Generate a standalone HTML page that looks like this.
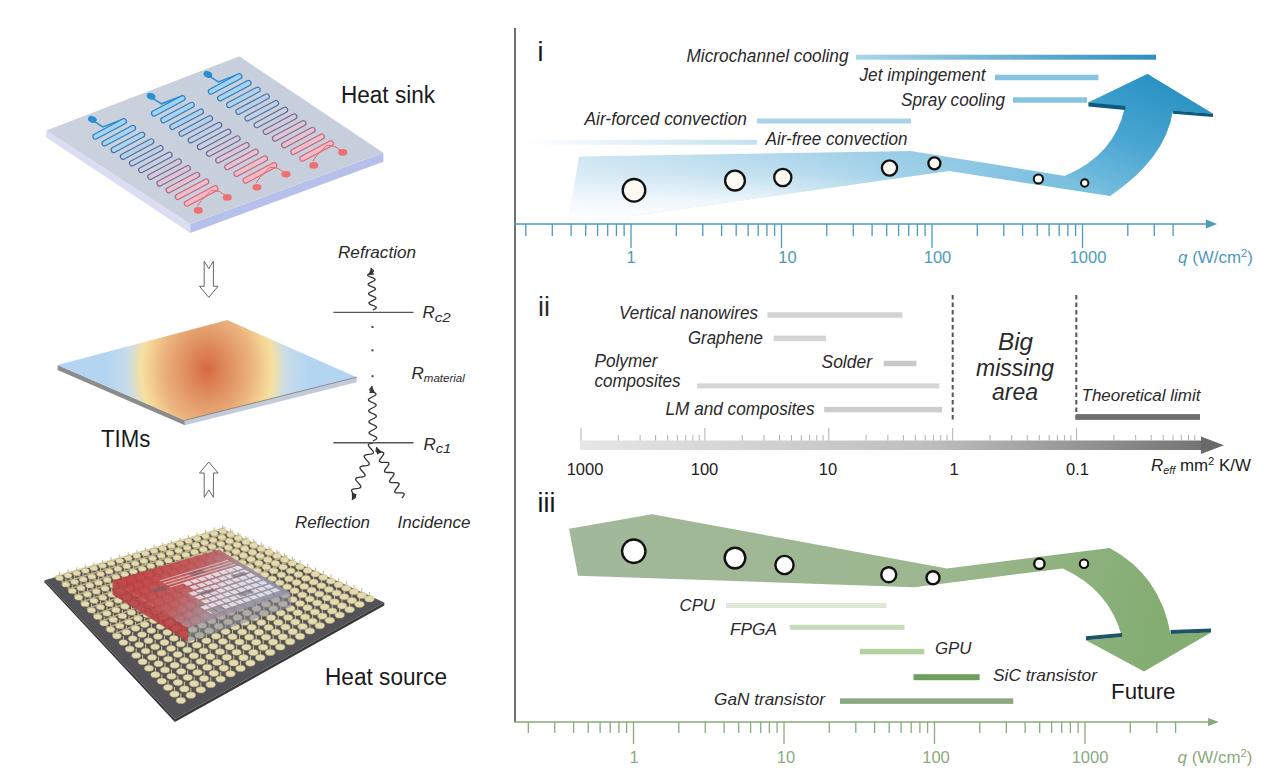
<!DOCTYPE html><html><head><meta charset="utf-8"><style>html,body{margin:0;padding:0;background:#fff;width:1280px;height:775px;overflow:hidden}svg{display:block}text{font-family:"Liberation Sans",sans-serif}</style></head><body>
<svg width="1280" height="775" viewBox="0 0 1280 775">
<defs>
<linearGradient id="bandB" gradientUnits="userSpaceOnUse" x1="580" y1="0" x2="1060" y2="0">
 <stop offset="0" stop-color="#cfe6f3"/><stop offset="0.5" stop-color="#a8d4ea"/><stop offset="1" stop-color="#7cc0e0"/></linearGradient>
<linearGradient id="bandW" gradientUnits="userSpaceOnUse" x1="0" y1="152" x2="0" y2="222">
 <stop offset="0" stop-color="#fff" stop-opacity="0"/><stop offset="0.3" stop-color="#fff" stop-opacity="0.2"/><stop offset="0.7" stop-color="#fff" stop-opacity="0.75"/><stop offset="1" stop-color="#fff" stop-opacity="1"/></linearGradient>
<linearGradient id="maskH" gradientUnits="userSpaceOnUse" x1="570" y1="0" x2="1000" y2="0">
 <stop offset="0" stop-color="#fff"/><stop offset="0.45" stop-color="#fff"/><stop offset="1" stop-color="#000"/></linearGradient>
<mask id="mH" maskUnits="userSpaceOnUse" x="0" y="0" width="1280" height="775"><rect x="0" y="0" width="1280" height="775" fill="url(#maskH)"/></mask>
<linearGradient id="arrowB" gradientUnits="userSpaceOnUse" x1="1100" y1="200" x2="1150" y2="80">
 <stop offset="0" stop-color="#7cc0e0"/><stop offset="0.5" stop-color="#4aa6d2"/><stop offset="1" stop-color="#2b93c4"/></linearGradient>
<linearGradient id="mcBar" x1="0" x2="1" y1="0" y2="0">
 <stop offset="0" stop-color="#a9d6ea"/><stop offset="1" stop-color="#2f8fbf"/></linearGradient>
<linearGradient id="afBar" x1="0" x2="1" y1="0" y2="0">
 <stop offset="0" stop-color="#ffffff"/><stop offset="1" stop-color="#c4e1ef"/></linearGradient>
<linearGradient id="grayAx" gradientUnits="userSpaceOnUse" x1="580" y1="0" x2="1225" y2="0">
 <stop offset="0" stop-color="#e6e6e6"/><stop offset="0.55" stop-color="#bdbdbd"/><stop offset="1" stop-color="#6d6d6d"/></linearGradient>
<linearGradient id="bandG" gradientUnits="userSpaceOnUse" x1="600" y1="540" x2="1150" y2="660">
 <stop offset="0" stop-color="#a2b89a"/><stop offset="0.6" stop-color="#9cb78f"/><stop offset="1" stop-color="#84ad72"/></linearGradient>
<radialGradient id="tim" gradientUnits="userSpaceOnUse" cx="207" cy="369" r="100" gradientTransform="translate(207 369) scale(1 1.25) translate(-207 -369)">
 <stop offset="0" stop-color="#d56a3e"/><stop offset="0.2" stop-color="#df8c5e"/><stop offset="0.45" stop-color="#ebb47f"/><stop offset="0.6" stop-color="#f4d596"/><stop offset="0.66" stop-color="#f5e0a2"/><stop offset="0.8" stop-color="#c8dcea"/><stop offset="1" stop-color="#b4d5f2"/></radialGradient>
<linearGradient id="hsTop" gradientUnits="userSpaceOnUse" x1="46" y1="130" x2="383" y2="153">
 <stop offset="0" stop-color="#cbd2de"/><stop offset="1" stop-color="#c6cedb"/></linearGradient>
<linearGradient id="chG" gradientUnits="userSpaceOnUse" x1="0" y1="0" x2="0" y2="100">
 <stop offset="0" stop-color="#2a8fd0"/><stop offset="0.5" stop-color="#6f86b0"/><stop offset="1" stop-color="#f07878"/></linearGradient>
<linearGradient id="dieG" gradientUnits="userSpaceOnUse" x1="150" y1="555" x2="250" y2="620">
 <stop offset="0" stop-color="#c03c3e"/><stop offset="0.38" stop-color="#bf5458"/><stop offset="0.7" stop-color="#a28e9c"/><stop offset="1" stop-color="#9294a8"/></linearGradient>
</defs>
<polygon points="46.3,130.6 190.3,224.1 190.3,233.1 46.3,137.6" fill="#d9def2"/>
<polygon points="190.3,224.1 383.3,152.8 383.3,161.8 190.3,233.1" fill="#b7c0ea"/>
<polygon points="46.3,130.6 239.3,56.3 383.3,152.8 190.3,224.1" fill="url(#hsTop)"/>
<ellipse cx="92.4" cy="119.4" rx="4.5" ry="3.2" fill="#2a8fd0" transform="rotate(20 92.4 119.4)"/>
<polyline points="94.9,121.9 102.9,126.9 123.9,118.9" fill="none" stroke="#2a8fd0" stroke-width="1.5"/>
<line x1="95.5" y1="136.5" x2="123.8" y2="121.4" stroke="rgb(38, 128, 200)" stroke-width="6.4" stroke-linecap="round"/><line x1="95.5" y1="136.5" x2="123.8" y2="121.4" stroke="rgb(160, 212, 240)" stroke-width="4.1" stroke-linecap="round"/><line x1="104.7" y1="143.2" x2="132.9" y2="128.1" stroke="rgb(49, 123, 189)" stroke-width="6.4" stroke-linecap="round"/><line x1="104.7" y1="143.2" x2="132.9" y2="128.1" stroke="rgb(168, 211, 237)" stroke-width="4.1" stroke-linecap="round"/><line x1="113.8" y1="149.9" x2="142.1" y2="134.8" stroke="rgb(61, 118, 178)" stroke-width="6.4" stroke-linecap="round"/><line x1="113.8" y1="149.9" x2="142.1" y2="134.8" stroke="rgb(176, 210, 235)" stroke-width="4.1" stroke-linecap="round"/><line x1="123.0" y1="156.6" x2="151.2" y2="141.5" stroke="rgb(72, 113, 167)" stroke-width="6.4" stroke-linecap="round"/><line x1="123.0" y1="156.6" x2="151.2" y2="141.5" stroke="rgb(184, 209, 232)" stroke-width="4.1" stroke-linecap="round"/><line x1="132.1" y1="163.3" x2="160.4" y2="148.2" stroke="rgb(84, 108, 156)" stroke-width="6.4" stroke-linecap="round"/><line x1="132.1" y1="163.3" x2="160.4" y2="148.2" stroke="rgb(192, 208, 230)" stroke-width="4.1" stroke-linecap="round"/><line x1="141.3" y1="170.0" x2="169.5" y2="154.9" stroke="rgb(96, 104, 146)" stroke-width="6.4" stroke-linecap="round"/><line x1="141.3" y1="170.0" x2="169.5" y2="154.9" stroke="rgb(200, 208, 228)" stroke-width="4.1" stroke-linecap="round"/><line x1="150.4" y1="176.7" x2="178.7" y2="161.6" stroke="rgb(122, 102, 140)" stroke-width="6.4" stroke-linecap="round"/><line x1="150.4" y1="176.7" x2="178.7" y2="161.6" stroke="rgb(208, 204, 222)" stroke-width="4.1" stroke-linecap="round"/><line x1="159.6" y1="183.4" x2="187.8" y2="168.3" stroke="rgb(148, 101, 134)" stroke-width="6.4" stroke-linecap="round"/><line x1="159.6" y1="183.4" x2="187.8" y2="168.3" stroke="rgb(216, 200, 216)" stroke-width="4.1" stroke-linecap="round"/><line x1="168.7" y1="190.1" x2="197.0" y2="175.0" stroke="rgb(174, 100, 129)" stroke-width="6.4" stroke-linecap="round"/><line x1="168.7" y1="190.1" x2="197.0" y2="175.0" stroke="rgb(225, 196, 210)" stroke-width="4.1" stroke-linecap="round"/><line x1="177.9" y1="196.8" x2="206.1" y2="181.7" stroke="rgb(200, 99, 123)" stroke-width="6.4" stroke-linecap="round"/><line x1="177.9" y1="196.8" x2="206.1" y2="181.7" stroke="rgb(233, 192, 204)" stroke-width="4.1" stroke-linecap="round"/><line x1="187.0" y1="203.5" x2="215.3" y2="188.4" stroke="rgb(226, 98, 118)" stroke-width="6.4" stroke-linecap="round"/><line x1="187.0" y1="203.5" x2="215.3" y2="188.4" stroke="rgb(242, 188, 198)" stroke-width="4.1" stroke-linecap="round"/>
<polyline points="211.26426602350074,190.39554354634552 219.26426602350074,191.39554354634552 225.26426602350074,195.39554354634552" fill="none" stroke="#e86868" stroke-width="1"/>
<polyline points="211.26426602350074,190.39554354634552 201.26426602350074,200.39554354634552 197.26426602350074,206.39554354634552" fill="none" stroke="#e86868" stroke-width="1"/>
<ellipse cx="227.26426602350074" cy="197.39554354634552" rx="4.5" ry="3.3" fill="#f07070"/>
<ellipse cx="198.26426602350074" cy="210.39554354634552" rx="4.5" ry="3.3" fill="#f07070"/>
<ellipse cx="151.1" cy="96.3" rx="4.5" ry="3.2" fill="#2a8fd0" transform="rotate(20 151.1 96.3)"/>
<polyline points="153.6,98.8 161.6,103.8 182.6,95.8" fill="none" stroke="#2a8fd0" stroke-width="1.5"/>
<line x1="154.2" y1="113.4" x2="182.5" y2="98.3" stroke="rgb(38, 128, 200)" stroke-width="6.4" stroke-linecap="round"/><line x1="154.2" y1="113.4" x2="182.5" y2="98.3" stroke="rgb(160, 212, 240)" stroke-width="4.1" stroke-linecap="round"/><line x1="163.4" y1="120.1" x2="191.6" y2="105.0" stroke="rgb(49, 123, 189)" stroke-width="6.4" stroke-linecap="round"/><line x1="163.4" y1="120.1" x2="191.6" y2="105.0" stroke="rgb(168, 211, 237)" stroke-width="4.1" stroke-linecap="round"/><line x1="172.5" y1="126.8" x2="200.8" y2="111.7" stroke="rgb(61, 118, 178)" stroke-width="6.4" stroke-linecap="round"/><line x1="172.5" y1="126.8" x2="200.8" y2="111.7" stroke="rgb(176, 210, 235)" stroke-width="4.1" stroke-linecap="round"/><line x1="181.7" y1="133.5" x2="209.9" y2="118.4" stroke="rgb(72, 113, 167)" stroke-width="6.4" stroke-linecap="round"/><line x1="181.7" y1="133.5" x2="209.9" y2="118.4" stroke="rgb(184, 209, 232)" stroke-width="4.1" stroke-linecap="round"/><line x1="190.8" y1="140.2" x2="219.1" y2="125.1" stroke="rgb(84, 108, 156)" stroke-width="6.4" stroke-linecap="round"/><line x1="190.8" y1="140.2" x2="219.1" y2="125.1" stroke="rgb(192, 208, 230)" stroke-width="4.1" stroke-linecap="round"/><line x1="200.0" y1="146.9" x2="228.2" y2="131.8" stroke="rgb(96, 104, 146)" stroke-width="6.4" stroke-linecap="round"/><line x1="200.0" y1="146.9" x2="228.2" y2="131.8" stroke="rgb(200, 208, 228)" stroke-width="4.1" stroke-linecap="round"/><line x1="209.1" y1="153.6" x2="237.4" y2="138.5" stroke="rgb(122, 102, 140)" stroke-width="6.4" stroke-linecap="round"/><line x1="209.1" y1="153.6" x2="237.4" y2="138.5" stroke="rgb(208, 204, 222)" stroke-width="4.1" stroke-linecap="round"/><line x1="218.3" y1="160.3" x2="246.5" y2="145.2" stroke="rgb(148, 101, 134)" stroke-width="6.4" stroke-linecap="round"/><line x1="218.3" y1="160.3" x2="246.5" y2="145.2" stroke="rgb(216, 200, 216)" stroke-width="4.1" stroke-linecap="round"/><line x1="227.4" y1="167.0" x2="255.7" y2="151.9" stroke="rgb(174, 100, 129)" stroke-width="6.4" stroke-linecap="round"/><line x1="227.4" y1="167.0" x2="255.7" y2="151.9" stroke="rgb(225, 196, 210)" stroke-width="4.1" stroke-linecap="round"/><line x1="236.6" y1="173.7" x2="264.8" y2="158.6" stroke="rgb(200, 99, 123)" stroke-width="6.4" stroke-linecap="round"/><line x1="236.6" y1="173.7" x2="264.8" y2="158.6" stroke="rgb(233, 192, 204)" stroke-width="4.1" stroke-linecap="round"/><line x1="245.7" y1="180.4" x2="274.0" y2="165.3" stroke="rgb(226, 98, 118)" stroke-width="6.4" stroke-linecap="round"/><line x1="245.7" y1="180.4" x2="274.0" y2="165.3" stroke="rgb(242, 188, 198)" stroke-width="4.1" stroke-linecap="round"/>
<polyline points="269.9642660235007,167.29554354634553 277.9642660235007,168.29554354634553 283.9642660235007,172.29554354634553" fill="none" stroke="#e86868" stroke-width="1"/>
<polyline points="269.9642660235007,167.29554354634553 259.9642660235007,177.29554354634553 255.96426602350073,183.29554354634553" fill="none" stroke="#e86868" stroke-width="1"/>
<ellipse cx="285.9642660235007" cy="174.29554354634553" rx="4.5" ry="3.3" fill="#f07070"/>
<ellipse cx="256.9642660235007" cy="187.29554354634553" rx="4.5" ry="3.3" fill="#f07070"/>
<ellipse cx="207.9" cy="74.4" rx="4.5" ry="3.2" fill="#2a8fd0" transform="rotate(20 207.9 74.4)"/>
<polyline points="210.4,76.9 218.4,81.9 239.4,73.9" fill="none" stroke="#2a8fd0" stroke-width="1.5"/>
<line x1="211.0" y1="91.5" x2="239.3" y2="76.4" stroke="rgb(38, 128, 200)" stroke-width="6.4" stroke-linecap="round"/><line x1="211.0" y1="91.5" x2="239.3" y2="76.4" stroke="rgb(160, 212, 240)" stroke-width="4.1" stroke-linecap="round"/><line x1="220.2" y1="98.2" x2="248.4" y2="83.1" stroke="rgb(49, 123, 189)" stroke-width="6.4" stroke-linecap="round"/><line x1="220.2" y1="98.2" x2="248.4" y2="83.1" stroke="rgb(168, 211, 237)" stroke-width="4.1" stroke-linecap="round"/><line x1="229.3" y1="104.9" x2="257.6" y2="89.8" stroke="rgb(61, 118, 178)" stroke-width="6.4" stroke-linecap="round"/><line x1="229.3" y1="104.9" x2="257.6" y2="89.8" stroke="rgb(176, 210, 235)" stroke-width="4.1" stroke-linecap="round"/><line x1="238.5" y1="111.6" x2="266.7" y2="96.5" stroke="rgb(72, 113, 167)" stroke-width="6.4" stroke-linecap="round"/><line x1="238.5" y1="111.6" x2="266.7" y2="96.5" stroke="rgb(184, 209, 232)" stroke-width="4.1" stroke-linecap="round"/><line x1="247.6" y1="118.3" x2="275.9" y2="103.2" stroke="rgb(84, 108, 156)" stroke-width="6.4" stroke-linecap="round"/><line x1="247.6" y1="118.3" x2="275.9" y2="103.2" stroke="rgb(192, 208, 230)" stroke-width="4.1" stroke-linecap="round"/><line x1="256.8" y1="125.0" x2="285.0" y2="109.9" stroke="rgb(96, 104, 146)" stroke-width="6.4" stroke-linecap="round"/><line x1="256.8" y1="125.0" x2="285.0" y2="109.9" stroke="rgb(200, 208, 228)" stroke-width="4.1" stroke-linecap="round"/><line x1="265.9" y1="131.7" x2="294.2" y2="116.6" stroke="rgb(122, 102, 140)" stroke-width="6.4" stroke-linecap="round"/><line x1="265.9" y1="131.7" x2="294.2" y2="116.6" stroke="rgb(208, 204, 222)" stroke-width="4.1" stroke-linecap="round"/><line x1="275.1" y1="138.4" x2="303.3" y2="123.3" stroke="rgb(148, 101, 134)" stroke-width="6.4" stroke-linecap="round"/><line x1="275.1" y1="138.4" x2="303.3" y2="123.3" stroke="rgb(216, 200, 216)" stroke-width="4.1" stroke-linecap="round"/><line x1="284.2" y1="145.1" x2="312.5" y2="130.0" stroke="rgb(174, 100, 129)" stroke-width="6.4" stroke-linecap="round"/><line x1="284.2" y1="145.1" x2="312.5" y2="130.0" stroke="rgb(225, 196, 210)" stroke-width="4.1" stroke-linecap="round"/><line x1="293.4" y1="151.8" x2="321.6" y2="136.7" stroke="rgb(200, 99, 123)" stroke-width="6.4" stroke-linecap="round"/><line x1="293.4" y1="151.8" x2="321.6" y2="136.7" stroke="rgb(233, 192, 204)" stroke-width="4.1" stroke-linecap="round"/><line x1="302.5" y1="158.5" x2="330.8" y2="143.4" stroke="rgb(226, 98, 118)" stroke-width="6.4" stroke-linecap="round"/><line x1="302.5" y1="158.5" x2="330.8" y2="143.4" stroke="rgb(242, 188, 198)" stroke-width="4.1" stroke-linecap="round"/>
<polyline points="326.76426602350074,145.39554354634552 334.76426602350074,146.39554354634552 340.76426602350074,150.39554354634552" fill="none" stroke="#e86868" stroke-width="1"/>
<polyline points="326.76426602350074,145.39554354634552 316.76426602350074,155.39554354634552 312.76426602350074,161.39554354634552" fill="none" stroke="#e86868" stroke-width="1"/>
<ellipse cx="342.76426602350074" cy="152.39554354634552" rx="4.5" ry="3.3" fill="#f07070"/>
<ellipse cx="313.76426602350074" cy="165.39554354634552" rx="4.5" ry="3.3" fill="#f07070"/>
<text x="341" y="102.6" font-size="23.5"  fill="#1a1a1a" text-anchor="start" textLength="94" lengthAdjust="spacingAndGlyphs" >Heat sink</text>
<path d="M204.20000000000002,261.2 L208.8,268.59999999999997 L213.4,261.2 L213.4,286.3 L218.10000000000002,286.3 L208.8,297.3 L199.5,286.3 L204.20000000000002,286.3 Z" fill="#fff" stroke="#666" stroke-width="1" stroke-linejoin="miter"/>
<path d="M204.20000000000002,497.3 L208.8,489.90000000000003 L213.4,497.3 L213.4,473 L218.10000000000002,473 L208.8,462 L199.5,473 L204.20000000000002,473 Z" fill="#fff" stroke="#666" stroke-width="1" stroke-linejoin="miter"/>
<polygon points="57.6,365 184.8,420.3 184.8,425.3 57.6,370" fill="#8c8c8c"/>
<polygon points="184.8,420.3 356.7,377.2 356.7,382.2 184.8,425.3" fill="#c3cbd9"/>
<polygon points="57.6,365 227.4,320.1 356.7,377.2 184.8,420.3" fill="url(#tim)"/>
<line x1="184.8" y1="420.3" x2="356.7" y2="377.2" stroke="#777" stroke-width="0.8"/>
<text x="101" y="447.3" font-size="23.5"  fill="#1a1a1a" text-anchor="start" textLength="49.5" lengthAdjust="spacingAndGlyphs" >TIMs</text>
<polyline points="372.80,310.00 374.02,309.42 375.09,308.85 375.87,308.29 376.26,307.75 376.22,307.22 375.73,306.72 374.87,306.23 373.73,305.75 372.46,305.28 371.20,304.81 370.11,304.33 369.33,303.84 368.94,303.33 368.99,302.80 369.47,302.25 370.33,301.69 371.44,301.12 372.68,300.54 373.88,299.96 374.89,299.39 375.59,298.84 375.89,298.30 375.74,297.78 375.17,297.28 374.24,296.79 373.05,296.31 371.77,295.84 370.54,295.37 369.51,294.89 368.80,294.39 368.51,293.88 368.66,293.35 369.23,292.80 370.16,292.23 371.31,291.66 372.55,291.08 373.72,290.50 374.68,289.93 375.30,289.38 375.50,288.85 375.25,288.33 374.59,287.83 373.59,287.35 372.37,286.88 371.09,286.41 369.89,285.93 368.92,285.45 368.30,284.95 368.10,284.43 368.35,283.89 369.01,283.34 370.00,282.77 371.18,282.19 372.42,281.61 373.56,281.04 374.45,280.48 374.98,279.93 375.08,279.40 374.74,278.89 373.99,278.39 372.93,277.91 371.69,277.44 370.41,276.97 369.25,276.49 368.35,276.00 367.82,275.50 367.72,274.98 368.07,274.44 368.81,273.88 369.85,273.31 371.06,272.73 372.29,272.15 373.11,271.59 373.44,271.05 373.32,270.53 372.87,270.02 372.24,269.52 371.63,269.02 371.18,268.52 371.00,268.00" fill="none" stroke="#333" stroke-width="1.3"/>
<polygon points="371,268 374.0971569770348,274.87369032322556 368.5022927604559,275.1134702182218" fill="#333"/>
<polyline points="373.00,441.00 374.44,440.29 375.66,439.58 376.47,438.87 376.75,438.18 376.45,437.50 375.61,436.83 374.37,436.16 372.90,435.50 371.43,434.84 370.19,434.17 369.35,433.50 369.05,432.82 369.33,432.13 370.14,431.42 371.36,430.71 372.80,430.00 374.24,429.29 375.46,428.58 376.27,427.87 376.55,427.18 376.25,426.50 375.41,425.83 374.17,425.16 372.70,424.50 371.23,423.84 369.99,423.17 369.15,422.50 368.85,421.82 369.13,421.13 369.94,420.42 371.16,419.71 372.60,419.00 374.04,418.29 375.26,417.58 376.07,416.87 376.35,416.18 376.05,415.50 375.21,414.83 373.97,414.16 372.50,413.50 371.03,412.84 369.79,412.17 368.95,411.50 368.65,410.82 368.93,410.13 369.74,409.42 370.96,408.71 372.40,408.00 373.84,407.29 375.06,406.58 375.87,405.87 376.15,405.18 375.85,404.50 375.01,403.83 373.77,403.16 372.30,402.50 370.83,401.84 369.59,401.17 368.75,400.50 368.45,399.82 368.73,399.13 369.54,398.42 370.76,397.71 372.20,397.00 373.64,396.29 374.86,395.58 375.67,394.87 375.95,394.18 375.65,393.50 374.81,392.83 373.57,392.16 372.10,391.50 370.82,390.84 370.06,390.16 369.87,389.48 370.15,388.78 370.72,388.09 371.35,387.39 371.83,386.69 372.00,386.00" fill="none" stroke="#333" stroke-width="1.3"/>
<polygon points="372,386 374.9267890004699,392.9479425837242 369.3277143908753,393.0497439402623" fill="#333"/>
<polyline points="373.00,443.00 371.37,443.21 369.95,443.50 368.92,443.92 368.38,444.54 368.39,445.35 368.90,446.35 369.80,447.48 370.90,448.70 372.00,449.92 372.90,451.05 373.41,452.05 373.42,452.86 372.88,453.48 371.85,453.90 370.43,454.19 368.80,454.40 367.17,454.61 365.75,454.90 364.72,455.32 364.18,455.94 364.19,456.75 364.70,457.75 365.60,458.88 366.70,460.10 367.80,461.32 368.70,462.45 369.21,463.45 369.22,464.26 368.68,464.88 367.65,465.30 366.23,465.59 364.60,465.80 362.97,466.01 361.55,466.30 360.52,466.72 359.98,467.34 359.99,468.15 360.50,469.15 361.40,470.28 362.50,471.50 363.60,472.72 364.50,473.85 365.01,474.85 365.02,475.66 364.48,476.28 363.45,476.70 362.03,476.99 360.40,477.20 358.77,477.41 357.35,477.70 356.32,478.12 355.78,478.74 355.79,479.55 356.30,480.55 357.20,481.68 358.30,482.90 359.40,484.12 360.30,485.25 360.81,486.25 360.82,487.06 360.28,487.68 359.25,488.10 357.83,488.39 356.20,488.60 354.57,488.81 353.15,489.10 352.12,489.52 351.58,490.14 351.59,490.95 352.10,491.95 353.00,493.08 354.10,494.30 355.03,495.45 355.47,496.42 355.37,497.20 354.83,497.81 354.02,498.32 353.16,498.81 352.43,499.35 352.00,500.00" fill="none" stroke="#333" stroke-width="1.3"/>
<polygon points="352,500 351.79257678470356,492.46362317756365 357.0472982388794,494.39957318699686" fill="#333"/>
<polyline points="402.00,498.00 402.98,496.71 403.77,495.52 404.18,494.52 404.12,493.75 403.55,493.24 402.49,492.97 401.07,492.89 399.45,492.90 397.83,492.91 396.41,492.83 395.35,492.56 394.78,492.05 394.72,491.28 395.13,490.28 395.92,489.09 396.90,487.80 397.88,486.51 398.67,485.32 399.08,484.32 399.02,483.55 398.45,483.04 397.39,482.77 395.97,482.69 394.35,482.70 392.73,482.71 391.31,482.63 390.25,482.36 389.68,481.85 389.62,481.08 390.03,480.08 390.82,478.89 391.80,477.60 392.78,476.31 393.57,475.12 393.98,474.12 393.92,473.35 393.35,472.84 392.29,472.57 390.87,472.49 389.25,472.50 387.63,472.51 386.21,472.43 385.15,472.16 384.58,471.65 384.52,470.88 384.93,469.88 385.72,468.69 386.70,467.40 387.68,466.11 388.47,464.92 388.88,463.92 388.82,463.15 388.25,462.64 387.19,462.37 385.77,462.29 384.15,462.30 382.53,462.31 381.11,462.23 380.05,461.96 379.48,461.45 379.42,460.68 379.83,459.68 380.62,458.49 381.60,457.20 382.58,455.91 383.37,454.72 383.78,453.72 383.72,452.95 383.15,452.44 382.09,452.17 380.67,452.09 379.05,452.10 377.59,452.03 376.61,451.73 376.13,451.17 376.08,450.40 376.28,449.50 376.54,448.58 376.66,447.72 376.50,447.00" fill="none" stroke="#333" stroke-width="1.3"/>
<polygon points="376.5,447 382.13489130329947,452.0087922695995 377.1260990336999,454.5131884043993" fill="#333"/>
<line x1="333.4" y1="312.4" x2="413.5" y2="312.4" stroke="#555" stroke-width="1.4"/>
<line x1="333.4" y1="442.7" x2="413.5" y2="442.7" stroke="#555" stroke-width="1.4"/>
<rect x="371.5" y="326" width="2" height="2" fill="#444"/>
<rect x="371.5" y="349.3" width="2" height="2" fill="#444"/>
<rect x="371.5" y="375.2" width="2" height="2" fill="#444"/>
<text x="338" y="258.2" font-size="16.5" font-style="italic" fill="#2a2a2a" text-anchor="start" textLength="78" lengthAdjust="spacingAndGlyphs" >Refraction</text>
<text x="295" y="527.8" font-size="16.5" font-style="italic" fill="#2a2a2a" text-anchor="start" textLength="75" lengthAdjust="spacingAndGlyphs" >Reflection</text>
<text x="397.5" y="527.8" font-size="16.5" font-style="italic" fill="#2a2a2a" text-anchor="start" textLength="73" lengthAdjust="spacingAndGlyphs" >Incidence</text>
<text x="422.5" y="317.5" font-size="17" font-style="italic" fill="#2a2a2a">R<tspan font-size="12" dy="4.5" textLength="16" lengthAdjust="spacingAndGlyphs">c2</tspan></text>
<text x="411.5" y="378.5" font-size="17" font-style="italic" fill="#2a2a2a">R<tspan font-size="11.5" dy="3.8" textLength="41" lengthAdjust="spacingAndGlyphs">material</tspan></text>
<text x="423.5" y="449.5" font-size="17" font-style="italic" fill="#2a2a2a">R<tspan font-size="12" dy="3.5" textLength="15.5" lengthAdjust="spacingAndGlyphs">c1</tspan></text>
<polygon points="44.5,580.3 174.9,719 174.9,722 44.5,582.3" fill="#333"/>
<polygon points="174.9,719 384.3,602.6 384.3,605.6 174.9,722" fill="#3a3a3a"/>
<polygon points="44.5,580.3 223.6,529.5 384.3,602.6 174.9,719" fill="#535357"/>
<path d="M57.9,576.5L117.6,636.7M66.5,574.1L126.9,632.8M75.1,571.6L136.1,629.0M83.7,569.2L145.3,625.2M92.2,566.8L154.6,621.3M100.8,564.3L163.8,617.5M109.4,561.9L173.0,613.6M118.0,559.5L182.3,609.8M126.6,557.0L191.5,605.9M135.1,554.6L200.7,602.1M143.7,552.2L209.9,598.2M152.3,549.7L219.2,594.4M160.9,547.3L228.4,590.5M169.4,544.9L237.6,586.7M178.0,542.4L246.9,582.8M186.6,540.0L256.1,579.0M195.2,537.6L265.3,575.1M203.8,535.1L274.6,571.3M212.3,532.7L283.8,567.4M220.9,530.3L293.0,563.6M55.0,576.4L225.5,527.4M61.4,582.9L233.3,530.9M67.7,589.4L241.0,534.4M74.1,595.9L248.7,537.9M80.4,602.5L256.5,541.5M86.8,609.0L264.2,545.0M93.2,615.5L272.0,548.5M99.5,622.0L279.7,552.0M105.9,628.6L287.4,555.5M112.2,635.1L295.2,559.1" stroke="#cfc396" stroke-width="1.6" fill="none" opacity="0.8"/>
<path d="M59.5,578.1v-6.0M68.1,575.6v-6.0M76.7,573.2v-6.0M85.3,570.7v-6.0M93.9,568.2v-6.0M102.5,565.7v-6.0M111.1,563.3v-6.0M119.7,560.8v-6.0M128.3,558.3v-6.0M136.9,555.9v-6.0M145.5,553.4v-6.0M154.1,550.9v-6.0M162.7,548.4v-6.0M171.3,546.0v-6.0M179.9,543.5v-6.0M188.5,541.0v-6.0M197.1,538.6v-6.0M205.6,536.1v-6.0M214.2,533.6v-6.0M222.8,531.2v-6.0M65.9,584.5v-6.0M74.6,581.9v-6.0M83.2,579.3v-6.0M91.9,576.7v-6.0M100.6,574.0v-6.0M109.2,571.4v-6.0M117.9,568.8v-6.0M126.6,566.2v-6.0M135.2,563.6v-6.0M143.9,560.9v-6.0M152.6,558.3v-6.0M161.2,555.7v-6.0M169.9,553.1v-6.0M178.6,550.5v-6.0M187.2,547.8v-6.0M195.9,545.2v-6.0M204.6,542.6v-6.0M213.2,540.0v-6.0M221.9,537.3v-6.0M230.6,534.7v-6.0M72.3,591.0v-6.1M81.0,588.2v-6.1M89.8,585.4v-6.1M98.5,582.7v-6.1M107.2,579.9v-6.1M116.0,577.1v-6.1M124.7,574.3v-6.1M133.4,571.6v-6.1M142.2,568.8v-6.1M150.9,566.0v-6.1M159.7,563.2v-6.1M168.4,560.5v-6.1M177.1,557.7v-6.1M185.9,554.9v-6.1M194.6,552.2v-6.1M203.3,549.4v-6.1M212.1,546.6v-6.1M220.8,543.8v-6.1M229.5,541.1v-6.1M238.3,538.3v-6.1M78.7,597.4v-6.2M87.5,594.5v-6.2M96.3,591.6v-6.2M105.1,588.6v-6.2M113.9,585.7v-6.2M122.7,582.8v-6.2M131.5,579.9v-6.2M140.3,577.0v-6.2M149.1,574.0v-6.2M157.9,571.1v-6.2M166.7,568.2v-6.2M175.5,565.3v-6.2M184.4,562.3v-6.2M193.2,559.4v-6.2M202.0,556.5v-6.2M210.8,553.6v-6.2M219.6,550.6v-6.2M228.4,547.7v-6.2M237.2,544.8v-6.2M246.0,541.9v-6.2M85.1,603.9v-6.2M94.0,600.8v-6.2M102.8,597.7v-6.2M111.7,594.6v-6.2M120.6,591.6v-6.2M129.5,588.5v-6.2M138.3,585.4v-6.2M147.2,582.3v-6.2M156.1,579.3v-6.2M165.0,576.2v-6.2M173.8,573.1v-6.2M182.7,570.0v-6.2M191.6,567.0v-6.2M200.5,563.9v-6.2M209.3,560.8v-6.2M218.2,557.7v-6.2M227.1,554.6v-6.2M236.0,551.6v-6.2M244.8,548.5v-6.2M253.7,545.4v-6.2M91.5,610.3v-6.3M100.4,607.1v-6.3M109.4,603.9v-6.3M118.3,600.6v-6.3M127.2,597.4v-6.3M136.2,594.2v-6.3M145.1,590.9v-6.3M154.1,587.7v-6.3M163.0,584.5v-6.3M172.0,581.3v-6.3M180.9,578.0v-6.3M189.9,574.8v-6.3M198.8,571.6v-6.3M207.8,568.4v-6.3M216.7,565.1v-6.3M225.6,561.9v-6.3M234.6,558.7v-6.3M243.5,555.4v-6.3M252.5,552.2v-6.3M261.4,549.0v-6.3M97.9,616.8v-6.4M106.9,613.4v-6.4M115.9,610.0v-6.4M124.9,606.6v-6.4M133.9,603.2v-6.4M142.9,599.9v-6.4M151.9,596.5v-6.4M161.0,593.1v-6.4M170.0,589.7v-6.4M179.0,586.3v-6.4M188.0,583.0v-6.4M197.0,579.6v-6.4M206.0,576.2v-6.4M215.1,572.8v-6.4M224.1,569.5v-6.4M233.1,566.1v-6.4M242.1,562.7v-6.4M251.1,559.3v-6.4M260.1,555.9v-6.4M269.1,552.6v-6.4M104.2,623.2v-6.4M113.3,619.7v-6.4M122.4,616.1v-6.4M131.5,612.6v-6.4M140.6,609.1v-6.4M149.7,605.5v-6.4M158.8,602.0v-6.4M167.8,598.5v-6.4M176.9,595.0v-6.4M186.0,591.4v-6.4M195.1,587.9v-6.4M204.2,584.4v-6.4M213.3,580.8v-6.4M222.3,577.3v-6.4M231.4,573.8v-6.4M240.5,570.2v-6.4M249.6,566.7v-6.4M258.7,563.2v-6.4M267.8,559.7v-6.4M276.9,556.1v-6.4M110.6,629.6v-6.5M119.8,626.0v-6.5M128.9,622.3v-6.5M138.1,618.6v-6.5M147.3,614.9v-6.5M156.4,611.2v-6.5M165.6,607.5v-6.5M174.7,603.9v-6.5M183.9,600.2v-6.5M193.0,596.5v-6.5M202.2,592.8v-6.5M211.3,589.1v-6.5M220.5,585.5v-6.5M229.6,581.8v-6.5M238.8,578.1v-6.5M248.0,574.4v-6.5M257.1,570.7v-6.5M266.3,567.1v-6.5M275.4,563.4v-6.5M284.6,559.7v-6.5M117.0,636.1v-6.6M126.3,632.2v-6.6M135.5,628.4v-6.6M144.7,624.6v-6.6M153.9,620.7v-6.6M163.1,616.9v-6.6M172.4,613.1v-6.6M181.6,609.3v-6.6M190.8,605.4v-6.6M200.0,601.6v-6.6M209.3,597.8v-6.6M218.5,593.9v-6.6M227.7,590.1v-6.6M236.9,586.3v-6.6M246.2,582.4v-6.6M255.4,578.6v-6.6M264.6,574.8v-6.6M273.8,570.9v-6.6M283.1,567.1v-6.6M292.3,563.3v-6.6M123.4,642.5v-6.6M132.7,638.5v-6.6M142.0,634.6v-6.6M151.3,630.6v-6.6M160.6,626.6v-6.6M169.9,622.6v-6.6M179.2,618.6v-6.6M188.5,614.6v-6.6M197.8,610.7v-6.6M207.1,606.7v-6.6M216.4,602.7v-6.6M225.7,598.7v-6.6M234.9,594.7v-6.6M244.2,590.7v-6.6M253.5,586.7v-6.6M262.8,582.8v-6.6M272.1,578.8v-6.6M281.4,574.8v-6.6M290.7,570.8v-6.6M300.0,566.8v-6.6M129.8,649.0v-6.7M139.2,644.8v-6.7M148.5,640.7v-6.7M157.9,636.6v-6.7M167.3,632.4v-6.7M176.6,628.3v-6.7M186.0,624.2v-6.7M195.4,620.0v-6.7M204.7,615.9v-6.7M214.1,611.7v-6.7M223.4,607.6v-6.7M232.8,603.5v-6.7M242.2,599.3v-6.7M251.5,595.2v-6.7M260.9,591.1v-6.7M270.3,586.9v-6.7M279.6,582.8v-6.7M289.0,578.7v-6.7M298.4,574.5v-6.7M307.7,570.4v-6.7M136.2,655.4v-6.8M145.6,651.1v-6.8M155.1,646.8v-6.8M164.5,642.5v-6.8M173.9,638.3v-6.8M183.4,634.0v-6.8M192.8,629.7v-6.8M202.2,625.4v-6.8M211.7,621.1v-6.8M221.1,616.8v-6.8M230.5,612.5v-6.8M240.0,608.3v-6.8M249.4,604.0v-6.8M258.8,599.7v-6.8M268.3,595.4v-6.8M277.7,591.1v-6.8M287.1,586.8v-6.8M296.6,582.5v-6.8M306.0,578.3v-6.8M315.4,574.0v-6.8M142.6,661.8v-6.8M152.1,657.4v-6.8M161.6,653.0v-6.8M171.1,648.5v-6.8M180.6,644.1v-6.8M190.1,639.7v-6.8M199.6,635.2v-6.8M209.1,630.8v-6.8M218.6,626.3v-6.8M228.1,621.9v-6.8M237.6,617.5v-6.8M247.1,613.0v-6.8M256.6,608.6v-6.8M266.1,604.2v-6.8M275.6,599.7v-6.8M285.1,595.3v-6.8M294.6,590.8v-6.8M304.2,586.4v-6.8M313.7,582.0v-6.8M323.2,577.5v-6.8M149.0,668.3v-6.9M158.5,663.7v-6.9M168.1,659.1v-6.9M177.7,654.5v-6.9M187.3,649.9v-6.9M196.8,645.3v-6.9M206.4,640.8v-6.9M216.0,636.2v-6.9M225.6,631.6v-6.9M235.1,627.0v-6.9M244.7,622.4v-6.9M254.3,617.8v-6.9M263.9,613.2v-6.9M273.4,608.6v-6.9M283.0,604.0v-6.9M292.6,599.5v-6.9M302.2,594.9v-6.9M311.7,590.3v-6.9M321.3,585.7v-6.9M330.9,581.1v-6.9M155.4,674.7v-7.0M165.0,670.0v-7.0M174.7,665.3v-7.0M184.3,660.5v-7.0M193.9,655.8v-7.0M203.6,651.0v-7.0M213.2,646.3v-7.0M222.9,641.6v-7.0M232.5,636.8v-7.0M242.2,632.1v-7.0M251.8,627.3v-7.0M261.4,622.6v-7.0M271.1,617.8v-7.0M280.7,613.1v-7.0M290.4,608.4v-7.0M300.0,603.6v-7.0M309.7,598.9v-7.0M319.3,594.1v-7.0M328.9,589.4v-7.0M338.6,584.7v-7.0M161.8,681.2v-7.0M171.5,676.3v-7.0M181.2,671.4v-7.0M190.9,666.5v-7.0M200.6,661.6v-7.0M210.3,656.7v-7.0M220.0,651.8v-7.0M229.7,646.9v-7.0M239.5,642.0v-7.0M249.2,637.2v-7.0M258.9,632.3v-7.0M268.6,627.4v-7.0M278.3,622.5v-7.0M288.0,617.6v-7.0M297.7,612.7v-7.0M307.5,607.8v-7.0M317.2,602.9v-7.0M326.9,598.0v-7.0M336.6,593.1v-7.0M346.3,588.2v-7.0M168.1,687.6v-7.1M177.9,682.6v-7.1M187.7,677.5v-7.1M197.5,672.5v-7.1M207.3,667.4v-7.1M217.1,662.4v-7.1M226.8,657.4v-7.1M236.6,652.3v-7.1M246.4,647.3v-7.1M256.2,642.2v-7.1M266.0,637.2v-7.1M275.8,632.1v-7.1M285.5,627.1v-7.1M295.3,622.1v-7.1M305.1,617.0v-7.1M314.9,612.0v-7.1M324.7,606.9v-7.1M334.5,601.9v-7.1M344.2,596.8v-7.1M354.0,591.8v-7.1M174.5,694.1v-7.2M184.4,688.9v-7.2M194.2,683.7v-7.2M204.1,678.5v-7.2M213.9,673.3v-7.2M223.8,668.1v-7.2M233.7,662.9v-7.2M243.5,657.7v-7.2M253.4,652.5v-7.2M263.2,647.3v-7.2M273.1,642.1v-7.2M282.9,636.9v-7.2M292.8,631.7v-7.2M302.6,626.5v-7.2M312.5,621.3v-7.2M322.3,616.1v-7.2M332.2,611.0v-7.2M342.0,605.8v-7.2M351.9,600.6v-7.2M361.7,595.4v-7.2M180.9,700.5v-7.2M190.8,695.2v-7.2M200.8,689.8v-7.2M210.7,684.5v-7.2M220.6,679.1v-7.2M230.5,673.8v-7.2M240.5,668.4v-7.2M250.4,663.1v-7.2M260.3,657.7v-7.2M270.2,652.4v-7.2M280.2,647.0v-7.2M290.1,641.7v-7.2M300.0,636.4v-7.2M309.9,631.0v-7.2M319.8,625.7v-7.2M329.8,620.3v-7.2M339.7,615.0v-7.2M349.6,609.6v-7.2M359.5,604.3v-7.2M369.5,598.9v-7.2" stroke="#c9bd8c" stroke-width="1.1" fill="none"/>
<g fill="#e4dab0" stroke="#b5a775" stroke-width="0.5"><ellipse cx="59.5" cy="578.1" rx="3.92" ry="2.56"/><ellipse cx="68.1" cy="575.6" rx="3.92" ry="2.56"/><ellipse cx="76.7" cy="573.2" rx="3.92" ry="2.56"/><ellipse cx="85.3" cy="570.7" rx="3.92" ry="2.56"/><ellipse cx="93.9" cy="568.2" rx="3.92" ry="2.56"/><ellipse cx="102.5" cy="565.7" rx="3.92" ry="2.56"/><ellipse cx="111.1" cy="563.3" rx="3.92" ry="2.56"/><ellipse cx="119.7" cy="560.8" rx="3.92" ry="2.56"/><ellipse cx="128.3" cy="558.3" rx="3.92" ry="2.56"/><ellipse cx="136.9" cy="555.9" rx="3.92" ry="2.56"/><ellipse cx="145.5" cy="553.4" rx="3.92" ry="2.56"/><ellipse cx="154.1" cy="550.9" rx="3.92" ry="2.56"/><ellipse cx="162.7" cy="548.4" rx="3.92" ry="2.56"/><ellipse cx="171.3" cy="546.0" rx="3.92" ry="2.56"/><ellipse cx="179.9" cy="543.5" rx="3.92" ry="2.56"/><ellipse cx="188.5" cy="541.0" rx="3.92" ry="2.56"/><ellipse cx="197.1" cy="538.6" rx="3.92" ry="2.56"/><ellipse cx="205.6" cy="536.1" rx="3.92" ry="2.56"/><ellipse cx="214.2" cy="533.6" rx="3.92" ry="2.56"/><ellipse cx="222.8" cy="531.2" rx="3.92" ry="2.56"/><ellipse cx="65.9" cy="584.5" rx="3.97" ry="2.59"/><ellipse cx="74.6" cy="581.9" rx="3.97" ry="2.59"/><ellipse cx="83.2" cy="579.3" rx="3.97" ry="2.59"/><ellipse cx="91.9" cy="576.7" rx="3.97" ry="2.59"/><ellipse cx="100.6" cy="574.0" rx="3.97" ry="2.59"/><ellipse cx="109.2" cy="571.4" rx="3.97" ry="2.59"/><ellipse cx="117.9" cy="568.8" rx="3.97" ry="2.59"/><ellipse cx="126.6" cy="566.2" rx="3.97" ry="2.59"/><ellipse cx="135.2" cy="563.6" rx="3.97" ry="2.59"/><ellipse cx="143.9" cy="560.9" rx="3.97" ry="2.59"/><ellipse cx="152.6" cy="558.3" rx="3.97" ry="2.59"/><ellipse cx="161.2" cy="555.7" rx="3.97" ry="2.59"/><ellipse cx="169.9" cy="553.1" rx="3.97" ry="2.59"/><ellipse cx="178.6" cy="550.5" rx="3.97" ry="2.59"/><ellipse cx="187.2" cy="547.8" rx="3.97" ry="2.59"/><ellipse cx="195.9" cy="545.2" rx="3.97" ry="2.59"/><ellipse cx="204.6" cy="542.6" rx="3.97" ry="2.59"/><ellipse cx="213.2" cy="540.0" rx="3.97" ry="2.59"/><ellipse cx="221.9" cy="537.3" rx="3.97" ry="2.59"/><ellipse cx="230.6" cy="534.7" rx="3.97" ry="2.59"/><ellipse cx="72.3" cy="591.0" rx="4.01" ry="2.61"/><ellipse cx="81.0" cy="588.2" rx="4.01" ry="2.61"/><ellipse cx="89.8" cy="585.4" rx="4.01" ry="2.61"/><ellipse cx="98.5" cy="582.7" rx="4.01" ry="2.61"/><ellipse cx="107.2" cy="579.9" rx="4.01" ry="2.61"/><ellipse cx="116.0" cy="577.1" rx="4.01" ry="2.61"/><ellipse cx="124.7" cy="574.3" rx="4.01" ry="2.61"/><ellipse cx="133.4" cy="571.6" rx="4.01" ry="2.61"/><ellipse cx="142.2" cy="568.8" rx="4.01" ry="2.61"/><ellipse cx="150.9" cy="566.0" rx="4.01" ry="2.61"/><ellipse cx="159.7" cy="563.2" rx="4.01" ry="2.61"/><ellipse cx="168.4" cy="560.5" rx="4.01" ry="2.61"/><ellipse cx="177.1" cy="557.7" rx="4.01" ry="2.61"/><ellipse cx="185.9" cy="554.9" rx="4.01" ry="2.61"/><ellipse cx="194.6" cy="552.2" rx="4.01" ry="2.61"/><ellipse cx="203.3" cy="549.4" rx="4.01" ry="2.61"/><ellipse cx="212.1" cy="546.6" rx="4.01" ry="2.61"/><ellipse cx="220.8" cy="543.8" rx="4.01" ry="2.61"/><ellipse cx="229.5" cy="541.1" rx="4.01" ry="2.61"/><ellipse cx="238.3" cy="538.3" rx="4.01" ry="2.61"/><ellipse cx="78.7" cy="597.4" rx="4.05" ry="2.64"/><ellipse cx="87.5" cy="594.5" rx="4.05" ry="2.64"/><ellipse cx="96.3" cy="591.6" rx="4.05" ry="2.64"/><ellipse cx="105.1" cy="588.6" rx="4.05" ry="2.64"/><ellipse cx="113.9" cy="585.7" rx="4.05" ry="2.64"/><ellipse cx="122.7" cy="582.8" rx="4.05" ry="2.64"/><ellipse cx="131.5" cy="579.9" rx="4.05" ry="2.64"/><ellipse cx="140.3" cy="577.0" rx="4.05" ry="2.64"/><ellipse cx="149.1" cy="574.0" rx="4.05" ry="2.64"/><ellipse cx="157.9" cy="571.1" rx="4.05" ry="2.64"/><ellipse cx="166.7" cy="568.2" rx="4.05" ry="2.64"/><ellipse cx="175.5" cy="565.3" rx="4.05" ry="2.64"/><ellipse cx="184.4" cy="562.3" rx="4.05" ry="2.64"/><ellipse cx="193.2" cy="559.4" rx="4.05" ry="2.64"/><ellipse cx="202.0" cy="556.5" rx="4.05" ry="2.64"/><ellipse cx="210.8" cy="553.6" rx="4.05" ry="2.64"/><ellipse cx="219.6" cy="550.6" rx="4.05" ry="2.64"/><ellipse cx="228.4" cy="547.7" rx="4.05" ry="2.64"/><ellipse cx="237.2" cy="544.8" rx="4.05" ry="2.64"/><ellipse cx="246.0" cy="541.9" rx="4.05" ry="2.64"/><ellipse cx="85.1" cy="603.9" rx="4.10" ry="2.67"/><ellipse cx="94.0" cy="600.8" rx="4.10" ry="2.67"/><ellipse cx="102.8" cy="597.7" rx="4.10" ry="2.67"/><ellipse cx="111.7" cy="594.6" rx="4.10" ry="2.67"/><ellipse cx="120.6" cy="591.6" rx="4.10" ry="2.67"/><ellipse cx="129.5" cy="588.5" rx="4.10" ry="2.67"/><ellipse cx="138.3" cy="585.4" rx="4.10" ry="2.67"/><ellipse cx="147.2" cy="582.3" rx="4.10" ry="2.67"/><ellipse cx="156.1" cy="579.3" rx="4.10" ry="2.67"/><ellipse cx="165.0" cy="576.2" rx="4.10" ry="2.67"/><ellipse cx="173.8" cy="573.1" rx="4.10" ry="2.67"/><ellipse cx="182.7" cy="570.0" rx="4.10" ry="2.67"/><ellipse cx="191.6" cy="567.0" rx="4.10" ry="2.67"/><ellipse cx="200.5" cy="563.9" rx="4.10" ry="2.67"/><ellipse cx="209.3" cy="560.8" rx="4.10" ry="2.67"/><ellipse cx="218.2" cy="557.7" rx="4.10" ry="2.67"/><ellipse cx="227.1" cy="554.6" rx="4.10" ry="2.67"/><ellipse cx="236.0" cy="551.6" rx="4.10" ry="2.67"/><ellipse cx="244.8" cy="548.5" rx="4.10" ry="2.67"/><ellipse cx="253.7" cy="545.4" rx="4.10" ry="2.67"/><ellipse cx="91.5" cy="610.3" rx="4.14" ry="2.70"/><ellipse cx="100.4" cy="607.1" rx="4.14" ry="2.70"/><ellipse cx="109.4" cy="603.9" rx="4.14" ry="2.70"/><ellipse cx="118.3" cy="600.6" rx="4.14" ry="2.70"/><ellipse cx="127.2" cy="597.4" rx="4.14" ry="2.70"/><ellipse cx="136.2" cy="594.2" rx="4.14" ry="2.70"/><ellipse cx="145.1" cy="590.9" rx="4.14" ry="2.70"/><ellipse cx="154.1" cy="587.7" rx="4.14" ry="2.70"/><ellipse cx="163.0" cy="584.5" rx="4.14" ry="2.70"/><ellipse cx="172.0" cy="581.3" rx="4.14" ry="2.70"/><ellipse cx="180.9" cy="578.0" rx="4.14" ry="2.70"/><ellipse cx="189.9" cy="574.8" rx="4.14" ry="2.70"/><ellipse cx="198.8" cy="571.6" rx="4.14" ry="2.70"/><ellipse cx="207.8" cy="568.4" rx="4.14" ry="2.70"/><ellipse cx="216.7" cy="565.1" rx="4.14" ry="2.70"/><ellipse cx="225.6" cy="561.9" rx="4.14" ry="2.70"/><ellipse cx="234.6" cy="558.7" rx="4.14" ry="2.70"/><ellipse cx="243.5" cy="555.4" rx="4.14" ry="2.70"/><ellipse cx="252.5" cy="552.2" rx="4.14" ry="2.70"/><ellipse cx="261.4" cy="549.0" rx="4.14" ry="2.70"/><ellipse cx="97.9" cy="616.8" rx="4.19" ry="2.73"/><ellipse cx="106.9" cy="613.4" rx="4.19" ry="2.73"/><ellipse cx="115.9" cy="610.0" rx="4.19" ry="2.73"/><ellipse cx="124.9" cy="606.6" rx="4.19" ry="2.73"/><ellipse cx="133.9" cy="603.2" rx="4.19" ry="2.73"/><ellipse cx="142.9" cy="599.9" rx="4.19" ry="2.73"/><ellipse cx="151.9" cy="596.5" rx="4.19" ry="2.73"/><ellipse cx="161.0" cy="593.1" rx="4.19" ry="2.73"/><ellipse cx="170.0" cy="589.7" rx="4.19" ry="2.73"/><ellipse cx="179.0" cy="586.3" rx="4.19" ry="2.73"/><ellipse cx="188.0" cy="583.0" rx="4.19" ry="2.73"/><ellipse cx="197.0" cy="579.6" rx="4.19" ry="2.73"/><ellipse cx="206.0" cy="576.2" rx="4.19" ry="2.73"/><ellipse cx="215.1" cy="572.8" rx="4.19" ry="2.73"/><ellipse cx="224.1" cy="569.5" rx="4.19" ry="2.73"/><ellipse cx="233.1" cy="566.1" rx="4.19" ry="2.73"/><ellipse cx="242.1" cy="562.7" rx="4.19" ry="2.73"/><ellipse cx="251.1" cy="559.3" rx="4.19" ry="2.73"/><ellipse cx="260.1" cy="555.9" rx="4.19" ry="2.73"/><ellipse cx="269.1" cy="552.6" rx="4.19" ry="2.73"/><ellipse cx="104.2" cy="623.2" rx="4.23" ry="2.76"/><ellipse cx="113.3" cy="619.7" rx="4.23" ry="2.76"/><ellipse cx="122.4" cy="616.1" rx="4.23" ry="2.76"/><ellipse cx="131.5" cy="612.6" rx="4.23" ry="2.76"/><ellipse cx="140.6" cy="609.1" rx="4.23" ry="2.76"/><ellipse cx="149.7" cy="605.5" rx="4.23" ry="2.76"/><ellipse cx="158.8" cy="602.0" rx="4.23" ry="2.76"/><ellipse cx="167.8" cy="598.5" rx="4.23" ry="2.76"/><ellipse cx="176.9" cy="595.0" rx="4.23" ry="2.76"/><ellipse cx="186.0" cy="591.4" rx="4.23" ry="2.76"/><ellipse cx="195.1" cy="587.9" rx="4.23" ry="2.76"/><ellipse cx="204.2" cy="584.4" rx="4.23" ry="2.76"/><ellipse cx="213.3" cy="580.8" rx="4.23" ry="2.76"/><ellipse cx="222.3" cy="577.3" rx="4.23" ry="2.76"/><ellipse cx="231.4" cy="573.8" rx="4.23" ry="2.76"/><ellipse cx="240.5" cy="570.2" rx="4.23" ry="2.76"/><ellipse cx="249.6" cy="566.7" rx="4.23" ry="2.76"/><ellipse cx="258.7" cy="563.2" rx="4.23" ry="2.76"/><ellipse cx="267.8" cy="559.7" rx="4.23" ry="2.76"/><ellipse cx="276.9" cy="556.1" rx="4.23" ry="2.76"/><ellipse cx="110.6" cy="629.6" rx="4.28" ry="2.79"/><ellipse cx="119.8" cy="626.0" rx="4.28" ry="2.79"/><ellipse cx="128.9" cy="622.3" rx="4.28" ry="2.79"/><ellipse cx="138.1" cy="618.6" rx="4.28" ry="2.79"/><ellipse cx="147.3" cy="614.9" rx="4.28" ry="2.79"/><ellipse cx="156.4" cy="611.2" rx="4.28" ry="2.79"/><ellipse cx="165.6" cy="607.5" rx="4.28" ry="2.79"/><ellipse cx="174.7" cy="603.9" rx="4.28" ry="2.79"/><ellipse cx="183.9" cy="600.2" rx="4.28" ry="2.79"/><ellipse cx="193.0" cy="596.5" rx="4.28" ry="2.79"/><ellipse cx="202.2" cy="592.8" rx="4.28" ry="2.79"/><ellipse cx="211.3" cy="589.1" rx="4.28" ry="2.79"/><ellipse cx="220.5" cy="585.5" rx="4.28" ry="2.79"/><ellipse cx="229.6" cy="581.8" rx="4.28" ry="2.79"/><ellipse cx="238.8" cy="578.1" rx="4.28" ry="2.79"/><ellipse cx="248.0" cy="574.4" rx="4.28" ry="2.79"/><ellipse cx="257.1" cy="570.7" rx="4.28" ry="2.79"/><ellipse cx="266.3" cy="567.1" rx="4.28" ry="2.79"/><ellipse cx="275.4" cy="563.4" rx="4.28" ry="2.79"/><ellipse cx="284.6" cy="559.7" rx="4.28" ry="2.79"/><ellipse cx="117.0" cy="636.1" rx="4.32" ry="2.82"/><ellipse cx="126.3" cy="632.2" rx="4.32" ry="2.82"/><ellipse cx="135.5" cy="628.4" rx="4.32" ry="2.82"/><ellipse cx="144.7" cy="624.6" rx="4.32" ry="2.82"/><ellipse cx="153.9" cy="620.7" rx="4.32" ry="2.82"/><ellipse cx="163.1" cy="616.9" rx="4.32" ry="2.82"/><ellipse cx="172.4" cy="613.1" rx="4.32" ry="2.82"/><ellipse cx="181.6" cy="609.3" rx="4.32" ry="2.82"/><ellipse cx="190.8" cy="605.4" rx="4.32" ry="2.82"/><ellipse cx="200.0" cy="601.6" rx="4.32" ry="2.82"/><ellipse cx="209.3" cy="597.8" rx="4.32" ry="2.82"/><ellipse cx="218.5" cy="593.9" rx="4.32" ry="2.82"/><ellipse cx="227.7" cy="590.1" rx="4.32" ry="2.82"/><ellipse cx="236.9" cy="586.3" rx="4.32" ry="2.82"/><ellipse cx="246.2" cy="582.4" rx="4.32" ry="2.82"/><ellipse cx="255.4" cy="578.6" rx="4.32" ry="2.82"/><ellipse cx="264.6" cy="574.8" rx="4.32" ry="2.82"/><ellipse cx="273.8" cy="570.9" rx="4.32" ry="2.82"/><ellipse cx="283.1" cy="567.1" rx="4.32" ry="2.82"/><ellipse cx="292.3" cy="563.3" rx="4.32" ry="2.82"/><ellipse cx="123.4" cy="642.5" rx="4.36" ry="2.85"/><ellipse cx="132.7" cy="638.5" rx="4.36" ry="2.85"/><ellipse cx="142.0" cy="634.6" rx="4.36" ry="2.85"/><ellipse cx="151.3" cy="630.6" rx="4.36" ry="2.85"/><ellipse cx="160.6" cy="626.6" rx="4.36" ry="2.85"/><ellipse cx="169.9" cy="622.6" rx="4.36" ry="2.85"/><ellipse cx="179.2" cy="618.6" rx="4.36" ry="2.85"/><ellipse cx="188.5" cy="614.6" rx="4.36" ry="2.85"/><ellipse cx="197.8" cy="610.7" rx="4.36" ry="2.85"/><ellipse cx="207.1" cy="606.7" rx="4.36" ry="2.85"/><ellipse cx="216.4" cy="602.7" rx="4.36" ry="2.85"/><ellipse cx="225.7" cy="598.7" rx="4.36" ry="2.85"/><ellipse cx="234.9" cy="594.7" rx="4.36" ry="2.85"/><ellipse cx="244.2" cy="590.7" rx="4.36" ry="2.85"/><ellipse cx="253.5" cy="586.7" rx="4.36" ry="2.85"/><ellipse cx="262.8" cy="582.8" rx="4.36" ry="2.85"/><ellipse cx="272.1" cy="578.8" rx="4.36" ry="2.85"/><ellipse cx="281.4" cy="574.8" rx="4.36" ry="2.85"/><ellipse cx="290.7" cy="570.8" rx="4.36" ry="2.85"/><ellipse cx="300.0" cy="566.8" rx="4.36" ry="2.85"/><ellipse cx="129.8" cy="649.0" rx="4.41" ry="2.88"/><ellipse cx="139.2" cy="644.8" rx="4.41" ry="2.88"/><ellipse cx="148.5" cy="640.7" rx="4.41" ry="2.88"/><ellipse cx="157.9" cy="636.6" rx="4.41" ry="2.88"/><ellipse cx="167.3" cy="632.4" rx="4.41" ry="2.88"/><ellipse cx="176.6" cy="628.3" rx="4.41" ry="2.88"/><ellipse cx="186.0" cy="624.2" rx="4.41" ry="2.88"/><ellipse cx="195.4" cy="620.0" rx="4.41" ry="2.88"/><ellipse cx="204.7" cy="615.9" rx="4.41" ry="2.88"/><ellipse cx="214.1" cy="611.7" rx="4.41" ry="2.88"/><ellipse cx="223.4" cy="607.6" rx="4.41" ry="2.88"/><ellipse cx="232.8" cy="603.5" rx="4.41" ry="2.88"/><ellipse cx="242.2" cy="599.3" rx="4.41" ry="2.88"/><ellipse cx="251.5" cy="595.2" rx="4.41" ry="2.88"/><ellipse cx="260.9" cy="591.1" rx="4.41" ry="2.88"/><ellipse cx="270.3" cy="586.9" rx="4.41" ry="2.88"/><ellipse cx="279.6" cy="582.8" rx="4.41" ry="2.88"/><ellipse cx="289.0" cy="578.7" rx="4.41" ry="2.88"/><ellipse cx="298.4" cy="574.5" rx="4.41" ry="2.88"/><ellipse cx="307.7" cy="570.4" rx="4.41" ry="2.88"/><ellipse cx="136.2" cy="655.4" rx="4.45" ry="2.90"/><ellipse cx="145.6" cy="651.1" rx="4.45" ry="2.90"/><ellipse cx="155.1" cy="646.8" rx="4.45" ry="2.90"/><ellipse cx="164.5" cy="642.5" rx="4.45" ry="2.90"/><ellipse cx="173.9" cy="638.3" rx="4.45" ry="2.90"/><ellipse cx="183.4" cy="634.0" rx="4.45" ry="2.90"/><ellipse cx="192.8" cy="629.7" rx="4.45" ry="2.90"/><ellipse cx="202.2" cy="625.4" rx="4.45" ry="2.90"/><ellipse cx="211.7" cy="621.1" rx="4.45" ry="2.90"/><ellipse cx="221.1" cy="616.8" rx="4.45" ry="2.90"/><ellipse cx="230.5" cy="612.5" rx="4.45" ry="2.90"/><ellipse cx="240.0" cy="608.3" rx="4.45" ry="2.90"/><ellipse cx="249.4" cy="604.0" rx="4.45" ry="2.90"/><ellipse cx="258.8" cy="599.7" rx="4.45" ry="2.90"/><ellipse cx="268.3" cy="595.4" rx="4.45" ry="2.90"/><ellipse cx="277.7" cy="591.1" rx="4.45" ry="2.90"/><ellipse cx="287.1" cy="586.8" rx="4.45" ry="2.90"/><ellipse cx="296.6" cy="582.5" rx="4.45" ry="2.90"/><ellipse cx="306.0" cy="578.3" rx="4.45" ry="2.90"/><ellipse cx="315.4" cy="574.0" rx="4.45" ry="2.90"/><ellipse cx="142.6" cy="661.8" rx="4.50" ry="2.93"/><ellipse cx="152.1" cy="657.4" rx="4.50" ry="2.93"/><ellipse cx="161.6" cy="653.0" rx="4.50" ry="2.93"/><ellipse cx="171.1" cy="648.5" rx="4.50" ry="2.93"/><ellipse cx="180.6" cy="644.1" rx="4.50" ry="2.93"/><ellipse cx="190.1" cy="639.7" rx="4.50" ry="2.93"/><ellipse cx="199.6" cy="635.2" rx="4.50" ry="2.93"/><ellipse cx="209.1" cy="630.8" rx="4.50" ry="2.93"/><ellipse cx="218.6" cy="626.3" rx="4.50" ry="2.93"/><ellipse cx="228.1" cy="621.9" rx="4.50" ry="2.93"/><ellipse cx="237.6" cy="617.5" rx="4.50" ry="2.93"/><ellipse cx="247.1" cy="613.0" rx="4.50" ry="2.93"/><ellipse cx="256.6" cy="608.6" rx="4.50" ry="2.93"/><ellipse cx="266.1" cy="604.2" rx="4.50" ry="2.93"/><ellipse cx="275.6" cy="599.7" rx="4.50" ry="2.93"/><ellipse cx="285.1" cy="595.3" rx="4.50" ry="2.93"/><ellipse cx="294.6" cy="590.8" rx="4.50" ry="2.93"/><ellipse cx="304.2" cy="586.4" rx="4.50" ry="2.93"/><ellipse cx="313.7" cy="582.0" rx="4.50" ry="2.93"/><ellipse cx="323.2" cy="577.5" rx="4.50" ry="2.93"/><ellipse cx="149.0" cy="668.3" rx="4.54" ry="2.96"/><ellipse cx="158.5" cy="663.7" rx="4.54" ry="2.96"/><ellipse cx="168.1" cy="659.1" rx="4.54" ry="2.96"/><ellipse cx="177.7" cy="654.5" rx="4.54" ry="2.96"/><ellipse cx="187.3" cy="649.9" rx="4.54" ry="2.96"/><ellipse cx="196.8" cy="645.3" rx="4.54" ry="2.96"/><ellipse cx="206.4" cy="640.8" rx="4.54" ry="2.96"/><ellipse cx="216.0" cy="636.2" rx="4.54" ry="2.96"/><ellipse cx="225.6" cy="631.6" rx="4.54" ry="2.96"/><ellipse cx="235.1" cy="627.0" rx="4.54" ry="2.96"/><ellipse cx="244.7" cy="622.4" rx="4.54" ry="2.96"/><ellipse cx="254.3" cy="617.8" rx="4.54" ry="2.96"/><ellipse cx="263.9" cy="613.2" rx="4.54" ry="2.96"/><ellipse cx="273.4" cy="608.6" rx="4.54" ry="2.96"/><ellipse cx="283.0" cy="604.0" rx="4.54" ry="2.96"/><ellipse cx="292.6" cy="599.5" rx="4.54" ry="2.96"/><ellipse cx="302.2" cy="594.9" rx="4.54" ry="2.96"/><ellipse cx="311.7" cy="590.3" rx="4.54" ry="2.96"/><ellipse cx="321.3" cy="585.7" rx="4.54" ry="2.96"/><ellipse cx="330.9" cy="581.1" rx="4.54" ry="2.96"/><ellipse cx="155.4" cy="674.7" rx="4.59" ry="2.99"/><ellipse cx="165.0" cy="670.0" rx="4.59" ry="2.99"/><ellipse cx="174.7" cy="665.3" rx="4.59" ry="2.99"/><ellipse cx="184.3" cy="660.5" rx="4.59" ry="2.99"/><ellipse cx="193.9" cy="655.8" rx="4.59" ry="2.99"/><ellipse cx="203.6" cy="651.0" rx="4.59" ry="2.99"/><ellipse cx="213.2" cy="646.3" rx="4.59" ry="2.99"/><ellipse cx="222.9" cy="641.6" rx="4.59" ry="2.99"/><ellipse cx="232.5" cy="636.8" rx="4.59" ry="2.99"/><ellipse cx="242.2" cy="632.1" rx="4.59" ry="2.99"/><ellipse cx="251.8" cy="627.3" rx="4.59" ry="2.99"/><ellipse cx="261.4" cy="622.6" rx="4.59" ry="2.99"/><ellipse cx="271.1" cy="617.8" rx="4.59" ry="2.99"/><ellipse cx="280.7" cy="613.1" rx="4.59" ry="2.99"/><ellipse cx="290.4" cy="608.4" rx="4.59" ry="2.99"/><ellipse cx="300.0" cy="603.6" rx="4.59" ry="2.99"/><ellipse cx="309.7" cy="598.9" rx="4.59" ry="2.99"/><ellipse cx="319.3" cy="594.1" rx="4.59" ry="2.99"/><ellipse cx="328.9" cy="589.4" rx="4.59" ry="2.99"/><ellipse cx="338.6" cy="584.7" rx="4.59" ry="2.99"/><ellipse cx="161.8" cy="681.2" rx="4.63" ry="3.02"/><ellipse cx="171.5" cy="676.3" rx="4.63" ry="3.02"/><ellipse cx="181.2" cy="671.4" rx="4.63" ry="3.02"/><ellipse cx="190.9" cy="666.5" rx="4.63" ry="3.02"/><ellipse cx="200.6" cy="661.6" rx="4.63" ry="3.02"/><ellipse cx="210.3" cy="656.7" rx="4.63" ry="3.02"/><ellipse cx="220.0" cy="651.8" rx="4.63" ry="3.02"/><ellipse cx="229.7" cy="646.9" rx="4.63" ry="3.02"/><ellipse cx="239.5" cy="642.0" rx="4.63" ry="3.02"/><ellipse cx="249.2" cy="637.2" rx="4.63" ry="3.02"/><ellipse cx="258.9" cy="632.3" rx="4.63" ry="3.02"/><ellipse cx="268.6" cy="627.4" rx="4.63" ry="3.02"/><ellipse cx="278.3" cy="622.5" rx="4.63" ry="3.02"/><ellipse cx="288.0" cy="617.6" rx="4.63" ry="3.02"/><ellipse cx="297.7" cy="612.7" rx="4.63" ry="3.02"/><ellipse cx="307.5" cy="607.8" rx="4.63" ry="3.02"/><ellipse cx="317.2" cy="602.9" rx="4.63" ry="3.02"/><ellipse cx="326.9" cy="598.0" rx="4.63" ry="3.02"/><ellipse cx="336.6" cy="593.1" rx="4.63" ry="3.02"/><ellipse cx="346.3" cy="588.2" rx="4.63" ry="3.02"/><ellipse cx="168.1" cy="687.6" rx="4.67" ry="3.05"/><ellipse cx="177.9" cy="682.6" rx="4.67" ry="3.05"/><ellipse cx="187.7" cy="677.5" rx="4.67" ry="3.05"/><ellipse cx="197.5" cy="672.5" rx="4.67" ry="3.05"/><ellipse cx="207.3" cy="667.4" rx="4.67" ry="3.05"/><ellipse cx="217.1" cy="662.4" rx="4.67" ry="3.05"/><ellipse cx="226.8" cy="657.4" rx="4.67" ry="3.05"/><ellipse cx="236.6" cy="652.3" rx="4.67" ry="3.05"/><ellipse cx="246.4" cy="647.3" rx="4.67" ry="3.05"/><ellipse cx="256.2" cy="642.2" rx="4.67" ry="3.05"/><ellipse cx="266.0" cy="637.2" rx="4.67" ry="3.05"/><ellipse cx="275.8" cy="632.1" rx="4.67" ry="3.05"/><ellipse cx="285.5" cy="627.1" rx="4.67" ry="3.05"/><ellipse cx="295.3" cy="622.1" rx="4.67" ry="3.05"/><ellipse cx="305.1" cy="617.0" rx="4.67" ry="3.05"/><ellipse cx="314.9" cy="612.0" rx="4.67" ry="3.05"/><ellipse cx="324.7" cy="606.9" rx="4.67" ry="3.05"/><ellipse cx="334.5" cy="601.9" rx="4.67" ry="3.05"/><ellipse cx="344.2" cy="596.8" rx="4.67" ry="3.05"/><ellipse cx="354.0" cy="591.8" rx="4.67" ry="3.05"/><ellipse cx="174.5" cy="694.1" rx="4.72" ry="3.08"/><ellipse cx="184.4" cy="688.9" rx="4.72" ry="3.08"/><ellipse cx="194.2" cy="683.7" rx="4.72" ry="3.08"/><ellipse cx="204.1" cy="678.5" rx="4.72" ry="3.08"/><ellipse cx="213.9" cy="673.3" rx="4.72" ry="3.08"/><ellipse cx="223.8" cy="668.1" rx="4.72" ry="3.08"/><ellipse cx="233.7" cy="662.9" rx="4.72" ry="3.08"/><ellipse cx="243.5" cy="657.7" rx="4.72" ry="3.08"/><ellipse cx="253.4" cy="652.5" rx="4.72" ry="3.08"/><ellipse cx="263.2" cy="647.3" rx="4.72" ry="3.08"/><ellipse cx="273.1" cy="642.1" rx="4.72" ry="3.08"/><ellipse cx="282.9" cy="636.9" rx="4.72" ry="3.08"/><ellipse cx="292.8" cy="631.7" rx="4.72" ry="3.08"/><ellipse cx="302.6" cy="626.5" rx="4.72" ry="3.08"/><ellipse cx="312.5" cy="621.3" rx="4.72" ry="3.08"/><ellipse cx="322.3" cy="616.1" rx="4.72" ry="3.08"/><ellipse cx="332.2" cy="611.0" rx="4.72" ry="3.08"/><ellipse cx="342.0" cy="605.8" rx="4.72" ry="3.08"/><ellipse cx="351.9" cy="600.6" rx="4.72" ry="3.08"/><ellipse cx="361.7" cy="595.4" rx="4.72" ry="3.08"/><ellipse cx="180.9" cy="700.5" rx="4.76" ry="3.11"/><ellipse cx="190.8" cy="695.2" rx="4.76" ry="3.11"/><ellipse cx="200.8" cy="689.8" rx="4.76" ry="3.11"/><ellipse cx="210.7" cy="684.5" rx="4.76" ry="3.11"/><ellipse cx="220.6" cy="679.1" rx="4.76" ry="3.11"/><ellipse cx="230.5" cy="673.8" rx="4.76" ry="3.11"/><ellipse cx="240.5" cy="668.4" rx="4.76" ry="3.11"/><ellipse cx="250.4" cy="663.1" rx="4.76" ry="3.11"/><ellipse cx="260.3" cy="657.7" rx="4.76" ry="3.11"/><ellipse cx="270.2" cy="652.4" rx="4.76" ry="3.11"/><ellipse cx="280.2" cy="647.0" rx="4.76" ry="3.11"/><ellipse cx="290.1" cy="641.7" rx="4.76" ry="3.11"/><ellipse cx="300.0" cy="636.4" rx="4.76" ry="3.11"/><ellipse cx="309.9" cy="631.0" rx="4.76" ry="3.11"/><ellipse cx="319.8" cy="625.7" rx="4.76" ry="3.11"/><ellipse cx="329.8" cy="620.3" rx="4.76" ry="3.11"/><ellipse cx="339.7" cy="615.0" rx="4.76" ry="3.11"/><ellipse cx="349.6" cy="609.6" rx="4.76" ry="3.11"/><ellipse cx="359.5" cy="604.3" rx="4.76" ry="3.11"/><ellipse cx="369.5" cy="598.9" rx="4.76" ry="3.11"/></g>
<polygon points="112.5,580.5 188,628 188,642 112.5,594.5" fill="#b84044" opacity="0.9"/>
<polygon points="188,628 291,593 291,607 188,642" fill="#85869a" opacity="0.55"/>
<polygon points="112.5,580.5 219,549.5 291,593 188,628" fill="url(#dieG)" opacity="0.92"/>
<g fill="#eeeef6" opacity="0.8"><polygon points="182.8,582.9 188.7,581.1 193.1,583.9 187.3,585.7"/><polygon points="190.0,580.7 195.9,578.9 200.3,581.6 194.4,583.5"/><polygon points="197.1,578.5 203.0,576.7 207.4,579.4 201.6,581.2"/><polygon points="204.3,576.3 210.2,574.5 214.6,577.2 208.7,579.0"/><polygon points="211.5,574.1 217.4,572.3 221.7,575.0 215.8,576.8"/><polygon points="218.6,571.9 224.5,570.1 228.9,572.8 223.0,574.6"/><polygon points="225.8,569.7 231.7,567.9 236.0,570.6 230.1,572.4"/><polygon points="232.9,567.5 238.8,565.7 243.2,568.3 237.3,570.2"/><polygon points="189.1,586.8 195.0,585.0 199.4,587.7 193.6,589.6"/><polygon points="196.3,584.6 202.1,582.8 206.5,585.5 200.7,587.3"/><polygon points="203.4,582.4 209.3,580.5 213.7,583.2 207.8,585.1"/><polygon points="210.5,580.2 216.4,578.3 220.8,581.0 214.9,582.9"/><polygon points="217.7,577.9 223.6,576.1 227.9,578.8 222.1,580.6"/><polygon points="224.8,575.7 230.7,573.9 235.1,576.5 229.2,578.4"/><polygon points="232.0,573.5 237.8,571.6 242.2,574.3 236.3,576.1"/><polygon points="239.1,571.3 245.0,569.4 249.3,572.0 243.4,573.9"/><polygon points="188.3,593.0 194.1,591.1 198.6,593.9 192.7,595.7"/><polygon points="195.4,590.7 201.3,588.9 205.7,591.6 199.8,593.5"/><polygon points="202.5,588.5 208.4,586.6 212.8,589.3 207.0,591.2"/><polygon points="209.6,586.2 215.5,584.4 219.9,587.1 214.1,588.9"/><polygon points="216.8,584.0 222.6,582.1 227.0,584.8 221.2,586.7"/><polygon points="223.9,581.7 229.8,579.9 234.1,582.5 228.3,584.4"/><polygon points="231.0,579.5 236.9,577.6 241.2,580.3 235.4,582.1"/><polygon points="238.1,577.2 244.0,575.4 248.3,578.0 242.5,579.9"/><polygon points="245.2,575.0 251.1,573.1 255.4,575.8 249.6,577.6"/><polygon points="194.6,596.9 200.4,595.0 204.9,597.8 199.1,599.6"/><polygon points="201.7,594.6 207.5,592.7 212.0,595.5 206.1,597.4"/><polygon points="208.8,592.3 214.6,590.5 219.1,593.2 213.2,595.1"/><polygon points="215.9,590.1 221.7,588.2 226.1,590.9 220.3,592.8"/><polygon points="223.0,587.8 228.8,585.9 233.2,588.6 227.4,590.5"/><polygon points="230.1,585.5 235.9,583.7 240.3,586.3 234.5,588.2"/><polygon points="237.2,583.3 243.0,581.4 247.4,584.0 241.6,585.9"/><polygon points="244.3,581.0 250.1,579.1 254.5,581.8 248.7,583.6"/><polygon points="251.4,578.7 257.2,576.9 261.6,579.5 255.7,581.4"/><polygon points="200.9,600.8 206.7,598.9 211.2,601.7 205.4,603.6"/><polygon points="208.0,598.5 213.8,596.6 218.2,599.3 212.4,601.3"/><polygon points="215.1,596.2 220.9,594.3 225.3,597.0 219.5,598.9"/><polygon points="222.1,593.9 228.0,592.0 232.4,594.7 226.6,596.6"/><polygon points="229.2,591.6 235.1,589.7 239.4,592.4 233.6,594.3"/><polygon points="236.3,589.3 242.1,587.4 246.5,590.1 240.7,592.0"/><polygon points="243.4,587.0 249.2,585.1 253.6,587.8 247.8,589.7"/><polygon points="250.5,584.7 256.3,582.9 260.6,585.5 254.8,587.4"/><polygon points="257.5,582.5 263.4,580.6 267.7,583.2 261.9,585.1"/><polygon points="200.2,607.0 206.0,605.1 210.4,607.9 204.6,609.8"/><polygon points="207.2,604.7 213.0,602.8 217.5,605.6 211.7,607.5"/><polygon points="214.3,602.4 220.1,600.5 224.5,603.2 218.7,605.1"/><polygon points="221.3,600.1 227.2,598.2 231.6,600.9 225.8,602.8"/><polygon points="228.4,597.8 234.2,595.9 238.6,598.6 232.8,600.5"/><polygon points="235.5,595.4 241.3,593.5 245.7,596.2 239.9,598.1"/><polygon points="242.5,593.1 248.3,591.2 252.7,593.9 246.9,595.8"/><polygon points="249.6,590.8 255.4,588.9 259.7,591.6 253.9,593.5"/><polygon points="256.6,588.5 262.5,586.6 266.8,589.2 261.0,591.1"/><polygon points="263.7,586.2 269.5,584.3 273.8,586.9 268.0,588.8"/><polygon points="206.5,611.0 212.3,609.0 216.7,611.8 211.0,613.7"/><polygon points="213.5,608.6 219.3,606.7 223.8,609.5 218.0,611.4"/><polygon points="220.6,606.3 226.4,604.4 230.8,607.1 225.0,609.0"/><polygon points="227.6,604.0 233.4,602.0 237.8,604.7 232.0,606.7"/><polygon points="234.6,601.6 240.4,599.7 244.8,602.4 239.1,604.3"/><polygon points="241.7,599.3 247.5,597.3 251.9,600.0 246.1,602.0"/><polygon points="248.7,596.9 254.5,595.0 258.9,597.7 253.1,599.6"/><polygon points="255.8,594.6 261.6,592.7 265.9,595.3 260.1,597.3"/><polygon points="262.8,592.3 268.6,590.3 272.9,593.0 267.2,594.9"/><polygon points="269.8,589.9 275.6,588.0 280.0,590.6 274.2,592.5"/></g>
<g fill="#f0e6ea" opacity="0.6"><polygon points="159.3,580.5 228.1,559.8 229.4,560.6 160.7,581.3"/><polygon points="162.7,582.5 231.4,561.8 232.7,562.5 164.0,583.4"/><polygon points="166.0,584.6 234.6,563.7 235.9,564.5 167.4,585.5"/><polygon points="169.4,586.7 237.9,565.7 239.2,566.5 170.7,587.5"/></g>
<g fill="#6d6068" opacity="0.55"><polygon points="151.0,589.9 164.7,585.7 169.1,588.5 155.5,592.7"/><polygon points="187.3,573.4 201.0,569.3 205.4,572.0 191.7,576.1"/><polygon points="197.9,592.7 211.5,588.4 216.0,591.1 202.4,595.4"/><polygon points="230.4,575.6 244.1,571.4 248.4,574.0 234.8,578.3"/><polygon points="236.6,594.0 250.1,589.6 254.5,592.3 241.0,596.7"/><polygon points="207.7,610.6 221.2,606.1 225.6,608.8 212.2,613.3"/></g>
<text x="325" y="684.6" font-size="23.5"  fill="#1a1a1a" text-anchor="start" textLength="122" lengthAdjust="spacingAndGlyphs" >Heat source</text>
<line x1="515" y1="28" x2="515" y2="722" stroke="#6f6f6f" stroke-width="2"/>
<text x="537.6" y="60.8" font-size="26.8"  fill="#151515" text-anchor="start"  >i</text>
<rect x="856" y="54.7" width="300" height="5" fill="url(#mcBar)"/>
<rect x="995" y="74.75" width="103.5" height="5.5" fill="#86c3df"/>
<rect x="1013" y="97.25" width="74" height="5.5" fill="#86c3df"/>
<rect x="757" y="118.5" width="154" height="5" fill="#a9d3e8"/>
<rect x="522" y="139.8" width="235" height="5" fill="url(#afBar)"/>
<text x="686.5" y="62.2" font-size="18" font-style="italic" fill="#2a2a2a" text-anchor="start" textLength="162" lengthAdjust="spacingAndGlyphs" >Microchannel cooling</text>
<text x="859.5" y="81.2" font-size="18" font-style="italic" fill="#2a2a2a" text-anchor="start" textLength="126" lengthAdjust="spacingAndGlyphs" >Jet impingement</text>
<text x="901" y="106.2" font-size="18" font-style="italic" fill="#2a2a2a" text-anchor="start" textLength="104" lengthAdjust="spacingAndGlyphs" >Spray cooling</text>
<text x="584.5" y="125.0" font-size="18" font-style="italic" fill="#2a2a2a" text-anchor="start" textLength="162.5" lengthAdjust="spacingAndGlyphs" >Air-forced convection</text>
<text x="765.5" y="145.2" font-size="18" font-style="italic" fill="#2a2a2a" text-anchor="start" textLength="142" lengthAdjust="spacingAndGlyphs" >Air-free convection</text>
<path d="M579,156.5 L911,151 L1065,176 Q1115,155 1125,107 L1088.4,102.5 L1147.5,73.9 L1213,113.7 L1172.8,110.6 Q1166,158 1110,196 L949,171 L568,225 Z" fill="url(#bandB)"/>
<path d="M579,156.5 L911,151 L1000,165 L1000,179 L949,171 L568,225 Z" fill="url(#bandW)" mask="url(#mH)"/>
<path d="M1110,196 Q1166,158 1172.8,110.6 L1213,113.7 L1147.5,73.9 L1088.4,102.5 L1125,107 Q1115,155 1065,176 Z" fill="url(#arrowB)"/>
<polygon points="1088.4,102.5 1125.3,106 1125.3,110 1088.4,106.5" fill="#0f5a80"/>
<polygon points="1172.8,110.6 1213,113.7 1213,117 1172.8,113.7" fill="#0f5a80"/>
<circle cx="634" cy="190.3" r="11.3" fill="#fdfaf4" stroke="#111" stroke-width="2.3"/>
<circle cx="735" cy="180.6" r="9.9" fill="#fdfaf4" stroke="#111" stroke-width="2.3"/>
<circle cx="782.8" cy="177.5" r="8.6" fill="#fdfaf4" stroke="#111" stroke-width="2.3"/>
<circle cx="889.5" cy="168" r="7.6" fill="#fdfaf4" stroke="#111" stroke-width="2.3"/>
<circle cx="934.4" cy="163.4" r="6" fill="#fdfaf4" stroke="#111" stroke-width="2.3"/>
<circle cx="1038.4" cy="179" r="4.6" fill="#fdfaf4" stroke="#111" stroke-width="2"/>
<circle cx="1084.7" cy="183" r="3.7" fill="#fdfaf4" stroke="#111" stroke-width="2"/>
<line x1="514" y1="224" x2="1210" y2="224" stroke="#4d9aba" stroke-width="1.6"/>
<polygon points="1217,224 1206,219.5 1206,228.5" fill="#4d9aba"/>
<path d="M525.8,224V236M552.3,224V236M571.1,224V236M585.7,224V236M597.6,224V236M607.7,224V236M616.4,224V236M624.1,224V236M631.0,224V248M676.3,224V236M702.8,224V236M721.6,224V236M736.2,224V236M748.1,224V236M758.2,224V236M766.9,224V236M774.6,224V236M781.5,224V248M826.8,224V236M853.3,224V236M872.1,224V236M886.7,224V236M898.6,224V236M908.7,224V236M917.4,224V236M925.1,224V236M932.0,224V248M977.3,224V236M1003.8,224V236M1022.6,224V236M1037.2,224V236M1049.1,224V236M1059.2,224V236M1067.9,224V236M1075.6,224V236M1082.5,224V248M1127.8,224V236M1154.3,224V236M1173.1,224V236" stroke="#4d9aba" stroke-width="1.3" fill="none"/>
<text x="631" y="262.5" font-size="16.5"  fill="#4d9aba" text-anchor="middle"  >1</text>
<text x="787.5" y="262.5" font-size="16.5"  fill="#4d9aba" text-anchor="middle"  >10</text>
<text x="937.5" y="262.5" font-size="16.5"  fill="#4d9aba" text-anchor="middle"  >100</text>
<text x="1088" y="262.5" font-size="16.5"  fill="#4d9aba" text-anchor="middle"  >1000</text>
<text x="1178" y="262.5" font-size="16.5" fill="#4d9aba" textLength="75" lengthAdjust="spacingAndGlyphs"><tspan font-style="italic">q</tspan> (W/cm<tspan font-size="11" dy="-6">2</tspan><tspan dy="6">)</tspan></text>
<text x="538.1" y="315.8" font-size="26.8"  fill="#2a2a2a" text-anchor="start"  >ii</text>
<rect x="767.5" y="312.25" width="134.79999999999995" height="5.5" fill="#d2d2d2"/>
<rect x="773.7" y="335.65" width="52.299999999999955" height="5.5" fill="#d4d4d4"/>
<rect x="883.7" y="360.75" width="32.69999999999993" height="5.5" fill="#c8c8c8"/>
<rect x="697" y="383.4" width="242.39999999999998" height="5" fill="#d6d6d6"/>
<rect x="824.2" y="406.85" width="117.89999999999998" height="5.5" fill="#cdcdcd"/>
<text x="619" y="318.6" font-size="17.5" font-style="italic" fill="#2a2a2a" text-anchor="start" textLength="139" lengthAdjust="spacingAndGlyphs" >Vertical nanowires</text>
<text x="688" y="343.6" font-size="17.5" font-style="italic" fill="#2a2a2a" text-anchor="start" textLength="75" lengthAdjust="spacingAndGlyphs" >Graphene</text>
<text x="821.5" y="368.2" font-size="17.5" font-style="italic" fill="#2a2a2a" text-anchor="start" textLength="50.5" lengthAdjust="spacingAndGlyphs" >Solder</text>
<text x="594.5" y="366.6" font-size="17.5" font-style="italic" fill="#2a2a2a" text-anchor="start" textLength="63" lengthAdjust="spacingAndGlyphs" >Polymer</text>
<text x="594.5" y="387.2" font-size="17.5" font-style="italic" fill="#2a2a2a" text-anchor="start" textLength="86" lengthAdjust="spacingAndGlyphs" >composites</text>
<text x="665.5" y="414.6" font-size="17.5" font-style="italic" fill="#2a2a2a" text-anchor="start" textLength="149" lengthAdjust="spacingAndGlyphs" >LM and composites</text>
<line x1="952.7" y1="295" x2="952.7" y2="421" stroke="#555" stroke-width="2" stroke-dasharray="4.5 3"/>
<line x1="1076.3" y1="295" x2="1076.3" y2="421" stroke="#555" stroke-width="2" stroke-dasharray="4.5 3"/>
<text x="998" y="349.5" font-size="24.5" font-style="italic" fill="#2a2a2a" text-anchor="start" textLength="35" lengthAdjust="spacingAndGlyphs" >Big</text>
<text x="976" y="375.5" font-size="24.5" font-style="italic" fill="#2a2a2a" text-anchor="start" textLength="78" lengthAdjust="spacingAndGlyphs" >missing</text>
<text x="992" y="400" font-size="24.5" font-style="italic" fill="#2a2a2a" text-anchor="start" textLength="46" lengthAdjust="spacingAndGlyphs" >area</text>
<text x="1081.5" y="400.8" font-size="16" font-style="italic" fill="#2a2a2a" text-anchor="start" textLength="119" lengthAdjust="spacingAndGlyphs" >Theoretical limit</text>
<rect x="1076" y="414.1" width="124" height="5.8" fill="#6f6f6f"/>
<rect x="580" y="440.5" width="623" height="9.5" fill="url(#grayAx)"/>
<polygon points="1224,445.2 1201,436.6 1201,454" fill="#6a6a6a"/>
<path d="M581.0,440.5V428.0M618.3,440.5V435.0M640.1,440.5V435.0M655.6,440.5V435.0M667.6,440.5V435.0M677.4,440.5V435.0M685.7,440.5V435.0M692.9,440.5V435.0M699.2,440.5V435.0M704.9,440.5V428.0M742.2,440.5V435.0M764.0,440.5V435.0M779.5,440.5V435.0M791.5,440.5V435.0M801.3,440.5V435.0M809.6,440.5V435.0M816.8,440.5V435.0M823.1,440.5V435.0M828.8,440.5V428.0M866.1,440.5V435.0M887.9,440.5V435.0M903.4,440.5V435.0M915.4,440.5V435.0M925.2,440.5V435.0M933.5,440.5V435.0M940.7,440.5V435.0M947.0,440.5V435.0M952.7,440.5V428.0M990.0,440.5V435.0M1011.8,440.5V435.0M1027.3,440.5V435.0M1039.3,440.5V435.0M1049.1,440.5V435.0M1057.4,440.5V435.0M1064.6,440.5V435.0M1070.9,440.5V435.0M1076.6,440.5V428.0M1113.9,440.5V435.0M1135.7,440.5V435.0M1151.2,440.5V435.0M1163.2,440.5V435.0M1173.0,440.5V435.0M1181.3,440.5V435.0M1188.5,440.5V435.0M1194.8,440.5V435.0" stroke="#b0b0b0" stroke-width="1" fill="none"/>
<text x="585" y="474.5" font-size="16.5"  fill="#222" text-anchor="middle"  >1000</text>
<text x="704.5" y="474.5" font-size="16.5"  fill="#222" text-anchor="middle"  >100</text>
<text x="828" y="474.5" font-size="16.5"  fill="#222" text-anchor="middle"  >10</text>
<text x="954" y="474.5" font-size="16.5"  fill="#222" text-anchor="middle"  >1</text>
<text x="1077.5" y="474.5" font-size="16.5"  fill="#222" text-anchor="middle"  >0.1</text>
<text x="1151" y="471" font-size="16.5" fill="#222" textLength="100" lengthAdjust="spacingAndGlyphs"><tspan font-style="italic">R</tspan><tspan font-size="10.5" dy="3" font-style="italic">eff</tspan><tspan dy="-3"> mm</tspan><tspan font-size="11" dy="-6">2</tspan><tspan dy="6"> K/W</tspan></text>
<text x="537.5" y="511.7" font-size="26.8"  fill="#151515" text-anchor="start"  >iii</text>
<path d="M569,528.75 L652,514.25 L947,568.4 L1109.7,548 Q1160,575 1170.6,634 L1211,632.5 L1144,671.6 L1086,640.3 L1122,637 Q1110,590 1062.8,568.4 L914.4,587.2 L578,575.75 Z" fill="url(#bandG)"/>
<polygon points="1086,640.3 1122,637 1122,633 1086,636.3" fill="#1d5566"/>
<polygon points="1170.6,634 1211,632.5 1211,628.5 1170.6,630" fill="#1d5566"/>
<circle cx="633.75" cy="551.25" r="11.7" fill="#ffffff" stroke="#111" stroke-width="2.4"/>
<circle cx="735" cy="558" r="10.3" fill="#ffffff" stroke="#111" stroke-width="2.4"/>
<circle cx="784.5" cy="565" r="9.1" fill="#ffffff" stroke="#111" stroke-width="2.4"/>
<circle cx="888.75" cy="574.7" r="7.5" fill="#ffffff" stroke="#111" stroke-width="2.4"/>
<circle cx="933" cy="577.8" r="6.5" fill="#ffffff" stroke="#111" stroke-width="2.4"/>
<circle cx="1039.4" cy="563.75" r="5.2" fill="#ffffff" stroke="#111" stroke-width="2.4"/>
<circle cx="1084" cy="563.75" r="4.2" fill="#ffffff" stroke="#111" stroke-width="2.1"/>
<rect x="726" y="603.0" width="160.5" height="5" fill="#dde9d6"/>
<rect x="789.7" y="624.8" width="114.79999999999995" height="5" fill="#c6dcb9"/>
<rect x="860" y="648.85" width="64.29999999999995" height="5.5" fill="#b2d29f"/>
<rect x="913.5" y="674.2" width="66.10000000000002" height="6" fill="#6f9e5e"/>
<rect x="840" y="698.35" width="173.29999999999995" height="5.5" fill="#8aa882"/>
<text x="679.5" y="611" font-size="16.5" font-style="italic" fill="#2a2a2a" text-anchor="start" textLength="35.5" lengthAdjust="spacingAndGlyphs" >CPU</text>
<text x="730" y="634.5" font-size="16.5" font-style="italic" fill="#2a2a2a" text-anchor="start" textLength="47" lengthAdjust="spacingAndGlyphs" >FPGA</text>
<text x="935" y="654.4" font-size="16.5" font-style="italic" fill="#2a2a2a" text-anchor="start" textLength="36.5" lengthAdjust="spacingAndGlyphs" >GPU</text>
<text x="993" y="681.4" font-size="16.5" font-style="italic" fill="#2a2a2a" text-anchor="start" textLength="104" lengthAdjust="spacingAndGlyphs" >SiC transistor</text>
<text x="714" y="704.9" font-size="16.5" font-style="italic" fill="#2a2a2a" text-anchor="start" textLength="111" lengthAdjust="spacingAndGlyphs" >GaN transistor</text>
<text x="1111" y="698.8" font-size="22"  fill="#1a1a1a" text-anchor="start" textLength="64.5" lengthAdjust="spacingAndGlyphs" >Future</text>
<line x1="514" y1="722" x2="1212" y2="722" stroke="#8aab7b" stroke-width="1.6"/>
<polygon points="1219,722 1208,718 1208,726" fill="#8aab7b"/>
<path d="M528.3,722V733M554.8,722V733M573.6,722V733M588.2,722V733M600.1,722V733M610.2,722V733M618.9,722V733M626.6,722V733M633.5,722V744M678.8,722V733M705.3,722V733M724.1,722V733M738.7,722V733M750.6,722V733M760.7,722V733M769.4,722V733M777.1,722V733M784.0,722V744M829.3,722V733M855.8,722V733M874.6,722V733M889.2,722V733M901.1,722V733M911.2,722V733M919.9,722V733M927.6,722V733M934.5,722V744M979.8,722V733M1006.3,722V733M1025.1,722V733M1039.7,722V733M1051.6,722V733M1061.7,722V733M1070.4,722V733M1078.1,722V733M1085.0,722V744M1130.3,722V733M1156.8,722V733M1175.6,722V733" stroke="#8aab7b" stroke-width="1.3" fill="none"/>
<text x="634" y="763" font-size="16.5"  fill="#8aab7b" text-anchor="middle"  >1</text>
<text x="786" y="763" font-size="16.5"  fill="#8aab7b" text-anchor="middle"  >10</text>
<text x="936" y="763" font-size="16.5"  fill="#8aab7b" text-anchor="middle"  >100</text>
<text x="1090" y="763" font-size="16.5"  fill="#8aab7b" text-anchor="middle"  >1000</text>
<text x="1177.5" y="763" font-size="16.5" fill="#8aab7b" textLength="75" lengthAdjust="spacingAndGlyphs"><tspan font-style="italic">q</tspan> (W/cm<tspan font-size="11" dy="-6">2</tspan><tspan dy="6">)</tspan></text>
</svg></body></html>
